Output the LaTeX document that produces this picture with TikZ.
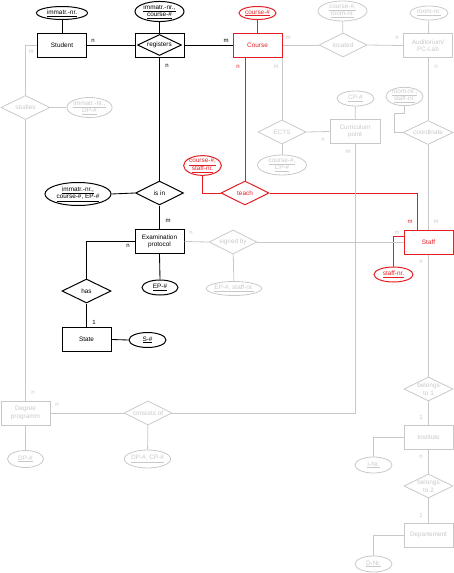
\documentclass[tikz,border=0pt]{standalone}
\usepackage{fontspec}
\setmainfont{Liberation Sans}
\usetikzlibrary{shapes.geometric}
\definecolor{myred}{RGB}{228,30,36}
\definecolor{mygray}{RGB}{200,200,200}
\tikzset{
  ent/.style={rectangle,draw,minimum width=49pt,minimum height=24pt,inner sep=1pt,align=center},
  rel/.style={diamond,draw,aspect=2,minimum width=48pt,minimum height=24pt,inner sep=0pt,align=center},
  att/.style={ellipse,draw,inner sep=0pt,align=center},
  blk/.style={draw=black,text=black,line width=1pt},
  rd/.style={draw=myred,text=myred,line width=1pt},
  gr/.style={draw=mygray,text=mygray,line width=0.8pt},
  conn/.style={line width=0.85pt},
  card/.style={inner sep=0pt,font=\fontsize{6}{7}\selectfont},
}
\begin{document}
\begin{tikzpicture}[x=1pt,y=-1pt,font=\fontsize{6.4}{7.5}\selectfont]
\useasboundingbox (0,0) rectangle (454,573);
% ---- nodes ----
\node[ent,blk] (student) at (62,45) {Student};
\node[att,blk,minimum width=51pt,minimum height=13pt] (sattr) at (62,13) {\underline{immatr.-nr.}};
\node[ent,blk] (reg) at (159.5,45) {};
\node[rel,blk,minimum width=44pt,minimum height=21pt] (regd) at (159.5,45) {registers};
\node[att,blk,minimum width=49pt,minimum height=19pt] (regattr) at (159.5,11.5) {\underline{immatr.-nr.,}\\\underline{course-\#}};
\node[ent,rd] (course) at (257.5,45) {Course};
\node[att,rd,minimum width=37pt,minimum height=13pt] (cattr) at (257.5,13) {\underline{course-\#}};
\node[rel,gr] (located) at (343,45) {located};
\node[att,gr,minimum width=49pt,minimum height=20pt] (locattr) at (342.5,11) {\underline{course-\#,}\\\underline{room-nr.}};
\node[ent,gr] (aud) at (428,45.5) {Auditorium/\\PC-Lab};
\node[att,gr,minimum width=38pt,minimum height=14pt] (audattr) at (429,13) {\underline{room-nr.}};
\node[rel,gr,minimum width=49pt] (studies) at (25.5,107.5) {studies};
\node[att,gr,minimum width=43pt,minimum height=19pt] (studattr) at (89.5,107.5) {\underline{immatr.-nr.,}\\\underline{DP-\#}};
\node[rel,blk] (isin) at (159.5,193) {is in};
\node[att,blk,minimum width=66pt,minimum height=23pt] (isinattr) at (78,194) {\underline{immatr.-nr.,}\\\underline{course-\#, EP-\#}};
\node[rel,rd] (teach) at (245,193) {teach};
\node[att,rd,minimum width=37pt,minimum height=17pt] (teachattr) at (202.5,165.5) {\underline{course-\#,}\\\underline{staff-nr.}};
\node[rel,gr] (ects) at (282,132) {ECTS};
\node[att,gr,minimum width=49pt,minimum height=20pt] (ectsattr) at (282,165) {\underline{course-\#,}\\\underline{CP-\#}};
\node[ent,gr,minimum width=50pt] (cp) at (355,131.5) {Curriculum\\point};
\node[att,gr,minimum width=37pt,minimum height=15pt] (cpattr) at (355.5,98.5) {\underline{CP-\#}};
\node[rel,gr,minimum width=50pt] (coord) at (428,132.5) {coordinate};
\node[att,gr,minimum width=37pt,minimum height=17pt] (coordattr) at (404.5,96.5) {\underline{room-nr.,}\\\underline{staff-nr.}};
\node[ent,blk] (ep) at (159.5,241.5) {Examination\\protocol};
\node[att,blk,minimum width=36pt,minimum height=15pt] (epattr) at (160,287.5) {\underline{EP-\#}};
\node[rel,gr] (signed) at (233,242) {signed by};
\node[att,gr,minimum width=54pt,minimum height=14pt] (signedattr) at (234,288.5) {\underline{EP-\#, staff-nr.}};
\node[ent,rd] (staff) at (428.5,242) {Staff};
\node[att,rd,minimum width=39pt,minimum height=15pt] (staffattr) at (393.5,274.5) {\underline{staff-nr.}};
\node[rel,blk,minimum width=49pt] (has) at (86.5,291) {has};
\node[ent,blk] (state) at (86.5,339.5) {State};
\node[att,blk,minimum width=37pt,minimum height=15pt] (stateattr) at (147.5,340) {\underline{S-\#}};
\node[ent,gr,minimum width=49pt] (deg) at (25.5,413) {Degree\\programm};
\node[att,gr,minimum width=36pt,minimum height=17pt] (degattr) at (25.5,459) {\underline{DP-\#}};
\node[rel,gr] (cons) at (148,413) {consists of};
\node[att,gr,minimum width=42pt,minimum height=18pt] (consattr) at (147.5,459) {\underline{DP-\#, CP-\#}};
\node[rel,gr,minimum width=49pt] (bel1) at (428.5,389) {belongs\\to 1};
\node[ent,gr] (inst) at (428.5,437.5) {Institute};
\node[att,gr,minimum width=37pt,minimum height=16pt] (instattr) at (373.5,465) {\underline{I-Nr.}};
\node[rel,gr,minimum width=49pt] (bel2) at (428.5,486) {belongs\\to 2};
\node[ent,gr] (dept) at (428.5,535) {Departement};
\node[att,gr,minimum width=37pt,minimum height=16pt] (deptattr) at (373.5,564) {\underline{D-Nr.}};
% ---- black connectors ----
\begin{scope}[blk,conn]
\draw (sattr) -- (student);
\draw (regattr) -- (reg);
\draw (student.east) -- (reg.west);
\draw (reg.east) -- (course.west);
\draw (reg.south) -- (isin.north);
\draw (isinattr.east) -- (isin.west);
\draw (isin.south) -- (ep.north);
\draw (ep.west) -| (has.north);
\draw (has.south) -- (state.north);
\draw (state.east) -- (stateattr.west);
\draw (ep.south) -- (epattr.north);
\end{scope}
% ---- red connectors ----
\begin{scope}[rd,conn]
\draw (cattr) -- (course);
\draw (teach.north) -- (teach.north |- course.south);
\draw (teachattr.south) |- (teach.west);
\draw (teach.east) -| ([xshift=-11.5pt]staff.north);
\draw ([yshift=6pt]staff.west) -| (staffattr.north);
\end{scope}
% ---- gray connectors ----
\begin{scope}[gr]
\draw (course.east) -- (located.west);
\draw (locattr) -- (located);
\draw (located.east) -- (aud.west);
\draw (audattr) -- (aud);
\draw (aud.south) -- (coord.north);
\draw (coord.south) -- (coord.south |- staff.north);
\draw (coordattr.south) -- ++(0,7) -- ++(-10,0) |- (coord.west);
\draw (student.west) -| (studies.north);
\draw (studattr.west) -- (studies.east);
\draw (studies.south) -- (deg.north);
\draw (degattr) -- (deg);
\draw (deg.east) -- (cons.west);
\draw (consattr) -- (cons);
\draw (cons.east) -| (cp.south);
\draw (ects.north) -- (ects.north |- course.south);
\draw (ects.east) -- (cp.west);
\draw (ectsattr) -- (ects);
\draw (cpattr) -- (cp);
\draw (ep.east) -- (signed.west);
\draw (signed.east) -- (staff.west);
\draw (signedattr) -- (signed);
\draw (staff.south) -- (bel1.north);
\draw (bel1.south) -- (inst.north);
\draw (inst.west) -| (instattr.north);
\draw (inst.south) -- (bel2.north);
\draw (bel2.south) -- (dept.north);
\draw (dept.west) -| (deptattr.north);
\end{scope}
% ---- cardinalities ----
\begin{scope}[every node/.style={card}]
\node[text=black] (c1) at (93,41) {n};
\node[text=black] (c2) at (226,41) {m};
\node[text=black] (c3) at (167,66) {n};
\node[text=black] (c4) at (168,221) {m};
\node[text=black] (c5) at (128,246) {n};
\node[text=black] (c6) at (94,322) {1};
\node[text=myred] (c7) at (238,67) {n};
\node[text=myred] (c8) at (410,222) {m};
\node[text=mygray] (g1) at (288,38) {m};
\node[text=mygray] (g2) at (397,38) {n};
\node[text=mygray] (g3) at (276,67) {m};
\node[text=mygray] (g4) at (436,67) {n};
\node[text=mygray] (g5) at (31,52) {m};
\node[text=mygray] (g6) at (323,140) {n};
\node[text=mygray] (g7) at (348,152) {m};
\node[text=mygray] (g8) at (191,233) {n};
\node[text=mygray] (g9) at (397,233) {m};
\node[text=mygray] (g10) at (436,222) {m};
\node[text=mygray] (g11) at (421,262) {n};
\node[text=mygray] (g12) at (421,417) {1};
\node[text=mygray] (g13) at (421,457) {n};
\node[text=mygray] (g14) at (421,515) {1};
\node[text=mygray] (g15) at (33,393) {n};
\node[text=mygray] (g16) at (57,405) {n};
\end{scope}
\end{tikzpicture}
\end{document}
